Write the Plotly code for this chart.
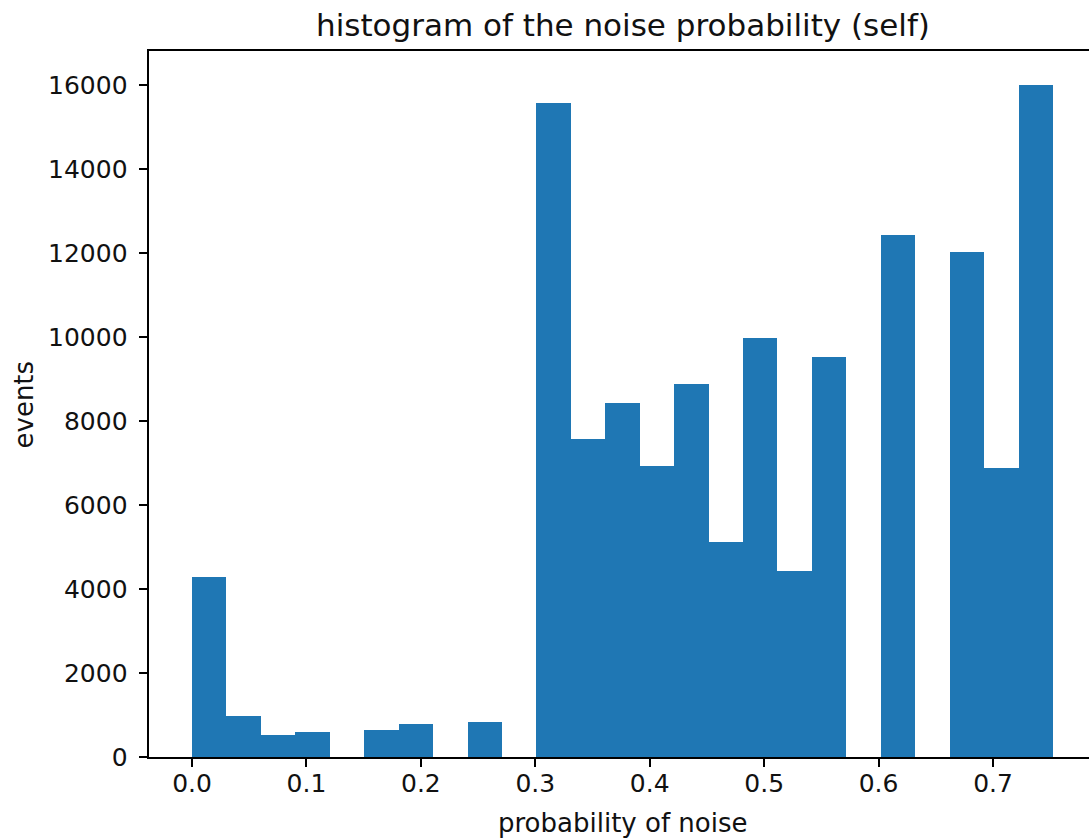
import numpy as np
import plotly.graph_objects as go

# histogram data (25 equal-width bins from 0 to max value)
bin_min = 0.0
bin_max = 0.7524
n_bins = 25
counts = [4286, 976, 514, 602, 0, 650, 786, 0, 833, 0,
          15571, 7562, 8429, 6929, 8881, 5110, 9967, 4436, 9514, 0,
          12436, 0, 12024, 6880, 16010]
x_ticks = [0.0, 0.1, 0.2, 0.3, 0.4, 0.5, 0.6, 0.7]
y_ticks = [0, 2000, 4000, 6000, 8000, 10000, 12000, 14000, 16000]

title_text = "histogram of the noise probability (self)"
x_label = "probability of noise"
y_label = "events"

edges = np.linspace(bin_min, bin_max, n_bins + 1)
centers = (edges[:-1] + edges[1:]) / 2
widths = np.diff(edges)

span = bin_max - bin_min
x_lo = bin_min - 0.05 * span
ymax = max(counts) * 1.05

W, H = 1089, 839
ml, mr, mt, mb = 149, 0, 51, 82
pw = W - ml - mr
ph = H - mt - mb
# axes continues beyond the right edge of the image (cropped)
axes_right_px = 1096
x_scale = (axes_right_px - ml) / (span * 1.1)
x_hi = x_lo + pw / x_scale

FONT = "DejaVu Sans"

fig = go.Figure(go.Bar(
    x=centers, y=counts, width=widths,
    marker=dict(color="#1f77b4", line=dict(width=0)),
    hoverinfo="x+y",
))

fig.update_layout(
    width=W, height=H,
    margin=dict(l=ml, r=mr, t=mt, b=mb, pad=0),
    paper_bgcolor="white", plot_bgcolor="white",
    showlegend=False, bargap=0,
    font=dict(family=FONT, size=26, color="black"),
)
fig.update_xaxes(
    range=[x_lo, x_hi], tickvals=x_ticks,
    ticktext=[f"{v:.1f}" for v in x_ticks],
    showgrid=False, zeroline=False,
    showline=True, linecolor="black", linewidth=1.9, mirror=True,
    ticks="outside", ticklen=8.5, tickwidth=1.9, tickcolor="black",
    ticklabelstandoff=-5,
    tickfont=dict(family=FONT, size=25, color="#111111"),
)
fig.update_yaxes(
    range=[0, ymax], tickvals=y_ticks,
    ticktext=[str(v) for v in y_ticks],
    showgrid=False, zeroline=False,
    showline=True, linecolor="black", linewidth=1.9, mirror=False,
    ticks="outside", ticklen=8.5, tickwidth=1.9, tickcolor="black",
    ticklabelstandoff=6,
    tickfont=dict(family=FONT, size=25, color="#111111"),
)

title_x = ((ml + axes_right_px) / 2 - ml) / pw
fig.add_annotation(text=title_text, xref="paper", yref="paper",
                   x=title_x, y=1 + (51 - 45) / ph, xanchor="center", yanchor="bottom",
                   showarrow=False, font=dict(family=FONT, size=31, color="#111111"))
fig.add_annotation(text=x_label, xref="paper", yref="paper",
                   x=title_x, y=-(840 - 757) / ph, xanchor="center", yanchor="bottom",
                   showarrow=False, font=dict(family=FONT, size=26, color="#111111"))
fig.add_annotation(text=y_label, xref="paper", yref="paper",
                   x=(23.5 - ml) / pw, y=0.5, xanchor="center", yanchor="middle",
                   textangle=-90, showarrow=False,
                   font=dict(family=FONT, size=26, color="#111111"))

fig.write_html("out.html", config={"displayModeBar": False},
               post_script="document.body.style.margin='0';document.body.style.overflow='hidden';")
